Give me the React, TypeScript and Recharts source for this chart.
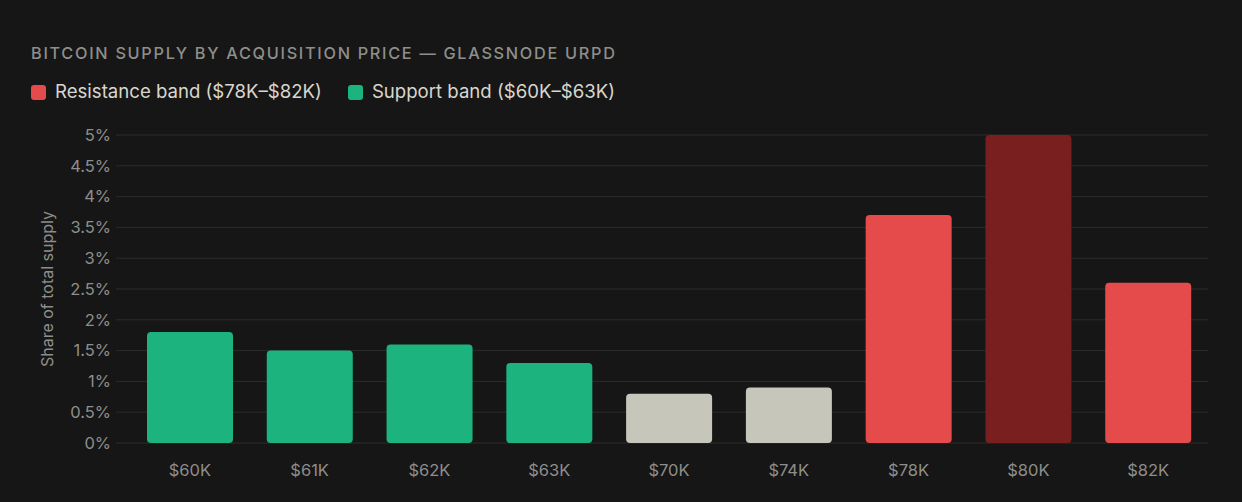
import { BarChart, Bar, XAxis, YAxis, CartesianGrid, Cell } from "recharts";

const prices = ["$60K", "$61K", "$62K", "$63K", "$70K", "$74K", "$78K", "$80K", "$82K"];
const shares = [1.8, 1.5, 1.6, 1.3, 0.8, 0.9, 3.7, 5.0, 2.6];
const bands = ["support", "support", "support", "support", "neutral", "neutral", "resistance", "peak", "resistance"];
const yTicks = [0, 0.5, 1, 1.5, 2, 2.5, 3, 3.5, 4, 4.5, 5];

const data = prices.map((p, i) => ({ price: p, share: shares[i], band: bands[i] }));

const BG = "#161616";
const GRID = "#2c2c2c";
const MUTED = "#8e8e8a";
const COLORS: Record<string, string> = {
  support: "#1db37e",
  neutral: "#c6c6bb",
  resistance: "#e54b4b",
  peak: "#7a1f20",
};

const FONT = "Inter, 'Noto Sans', sans-serif";

function Swatch({ color }: { color: string }) {
  return (
    <span
      style={{
        display: "inline-block", width: 15, height: 15, borderRadius: 3,
        background: color, marginRight: 9, verticalAlign: "-2px",
      }}
    />
  );
}

export default function App() {
  return (
    <div style={{ position: "fixed", left: 0, top: 0, width: 1242, height: 502, background: BG, fontFamily: FONT }}>
      <div
        style={{
          position: "absolute", left: 31, top: 43, fontSize: 16.3, fontWeight: 500,
          letterSpacing: "1.7px", color: MUTED, whiteSpace: "nowrap",
        }}
      >
        BITCOIN SUPPLY BY ACQUISITION PRICE — GLASSNODE URPD
      </div>
      <div style={{ position: "absolute", left: 31, top: 80, fontSize: 18.6, color: "#d9d7cd", whiteSpace: "nowrap" }}>
        <Swatch color={COLORS.resistance} />
        <span style={{ marginRight: 26 }}>Resistance band ($78K–$82K)</span>
        <Swatch color={COLORS.support} />
        <span>Support band ($60K–$63K)</span>
      </div>

      <BarChart
        width={1242}
        height={502}
        data={data}
        margin={{ top: 135, right: 34, bottom: 29, left: 0 }}
        style={{ position: "absolute", left: 0, top: 0 }}
      >
        <CartesianGrid vertical={false} stroke={GRID} />
        <XAxis
          dataKey="price"
          axisLine={false}
          tickLine={false}
          tickSize={0}
          tickMargin={21}
          tick={{ fill: MUTED, fontSize: 16.5, fontFamily: FONT }}
        />
        <YAxis
          width={130}
          domain={[0, 5]}
          ticks={yTicks}
          interval={0}
          tickFormatter={(v: number) => `${v}%`}
          axisLine={false}
          tickLine={{ stroke: GRID }}
          tickSize={14}
          tickMargin={5}
          tick={{ fill: MUTED, fontSize: 16.5, fontFamily: FONT }}
          label={{
            content: () => (
              <text
                transform="translate(53, 289) rotate(-90)"
                textAnchor="middle"
                fill={MUTED}
                fontSize={16}
                fontFamily={FONT}
              >
                Share of total supply
              </text>
            ),
          }}
        />
        <Bar dataKey="share" barSize={86} radius={[4, 4, 4, 4]} isAnimationActive={false}>
          {data.map((d) => (
            <Cell key={d.price} fill={COLORS[d.band]} />
          ))}
        </Bar>
      </BarChart>
    </div>
  );
}
